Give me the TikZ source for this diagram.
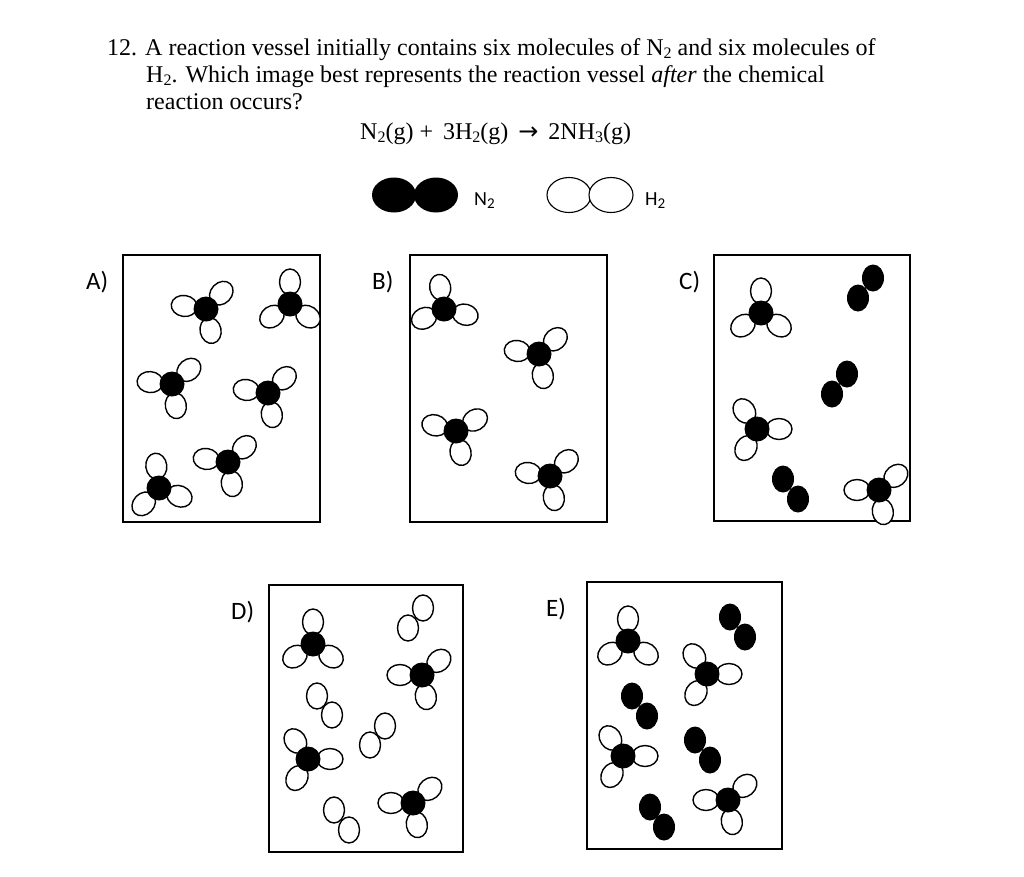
\documentclass[tikz,border=0pt]{standalone}
\usepackage{fontspec}
\setmainfont{Liberation Serif}
\newfontfamily\lab{Carlito}
\newfontfamily\arr{DejaVu Sans}
\newcommand\mysub[1]{\raisebox{-0.35ex}{\fontsize{16}{16}\selectfont #1}}
\newcommand\lsub[1]{\raisebox{-0.35ex}{\fontsize{15}{15}\selectfont #1}}
\tikzset{
  hatom/.style={draw=black,fill=white,line width=1.4pt},
  natom/.style={fill=black},
  vessel/.style={draw=black,line width=1.1pt},
  txt/.style={anchor=base west,inner sep=0pt,font=\fontsize{24}{28}\selectfont},
  lbl/.style={anchor=base west,inner sep=0pt,font=\lab\fontsize{25}{28}\selectfont},
}
\newcommand\nhmol[5]{\begin{scope}[shift={(#1,#2)}]
 \foreach \a in {#3,#4,#5}{\draw[hatom,rotate=\a] (22,0) ellipse (13 and 10.5);}
 \fill[natom] (0,0) ellipse (12.5 and 12.5);\end{scope}}
\newcommand\nn[4]{\fill[natom] (#1,#2) ellipse (11 and 13.5); \fill[natom] (#3,#4) ellipse (11 and 13.5);}
\newcommand\hh[4]{\draw[hatom] (#1,#2) ellipse (10.5 and 13); \draw[hatom] (#3,#4) ellipse (10.5 and 13);}
\begin{document}
\begin{tikzpicture}[x=1pt,y=-1pt]
\useasboundingbox (0,0) rectangle (1024,876);
\fill[white] (0,0) rectangle (1024,876);
% text
\node[txt] (t1) at (107,55) {12. A reaction vessel initially contains six molecules of N\mysub{2} and six molecules of};
\node[txt] (t2) at (146,82) {H\mysub{2}. Which image best represents the reaction vessel \textit{after} the chemical};
\node[txt] (t3) at (146,109) {reaction occurs?};
\node[txt] (eq) at (360,139) {N\mysub{2}(g) +\, 3H\mysub{2}(g) \,{\arr→}\, 2NH\mysub{3}(g)};
% legend
\fill[natom] (394,195) ellipse (22 and 17.5);
\fill[natom] (436,195) ellipse (22 and 17.5);
\node[lbl,font=\lab\fontsize{20}{24}\selectfont] (ln) at (474,205) {N\lsub{2}};
\draw[hatom,line width=1.1pt] (569,195) ellipse (22 and 17.5);
\draw[hatom,line width=1.1pt] (611,195) ellipse (22 and 17.5);
\node[lbl,font=\lab\fontsize{20}{24}\selectfont] (lh) at (645,205) {H\lsub{2}};
% boxes and labels
\draw[vessel] (123,255) rectangle (320,522);
\draw[vessel] (410,255) rectangle (607,522);
\draw[vessel] (714,255) rectangle (910,521);
\draw[vessel] (269,585) rectangle (463,852);
\draw[vessel] (587,582) rectangle (782,849);
\node[lbl] (la) at (86,289) {A)};
\node[lbl] (lb) at (372,289) {B)};
\node[lbl] (lc) at (679,289) {C)};
\node[lbl] (ld) at (231,619) {D)};
\node[lbl] (le) at (546,616) {E)};
% A
\nhmol{206}{309}{172}{46}{282}
\nhmol{290}{304}{90}{215}{325}
\nhmol{172}{384}{175}{40}{280}
\nhmol{268}{393}{172}{42}{280}
\nhmol{228}{462}{172}{42}{280}
\nhmol{159}{488}{97}{226}{338}
% B
\nhmol{444}{309}{100}{205}{345}
\nhmol{539}{354}{172}{42}{280}
\nhmol{456}{431}{165}{30}{282}
\nhmol{550}{476}{172}{42}{280}
% C
\nhmol{761}{313}{90}{215}{325}
\nhmol{757}{429}{125}{0}{240}
\nhmol{879}{490}{180}{40}{280}
\nn{873}{278}{858}{298}
\nn{847}{374}{832}{394}
\nn{783}{479}{798}{499}
% D
\nhmol{313}{644}{90}{215}{325}
\nhmol{422}{675}{180}{40}{280}
\nhmol{308}{759}{125}{0}{240}
\nhmol{413}{803}{180}{40}{280}
\hh{408}{628}{423}{608}
\hh{317}{696}{332}{715}
\hh{370}{745}{385}{726}
\hh{334}{810}{349}{830}
% E
\nhmol{628}{641}{90}{215}{325}
\nhmol{707}{674}{125}{0}{240}
\nhmol{623}{756}{125}{0}{240}
\nhmol{728}{800}{180}{40}{280}
\nn{730}{617}{745}{637}
\nn{632}{696}{647}{716}
\nn{695}{740}{710}{760}
\nn{650}{807}{664}{827}
\end{tikzpicture}
\end{document}
